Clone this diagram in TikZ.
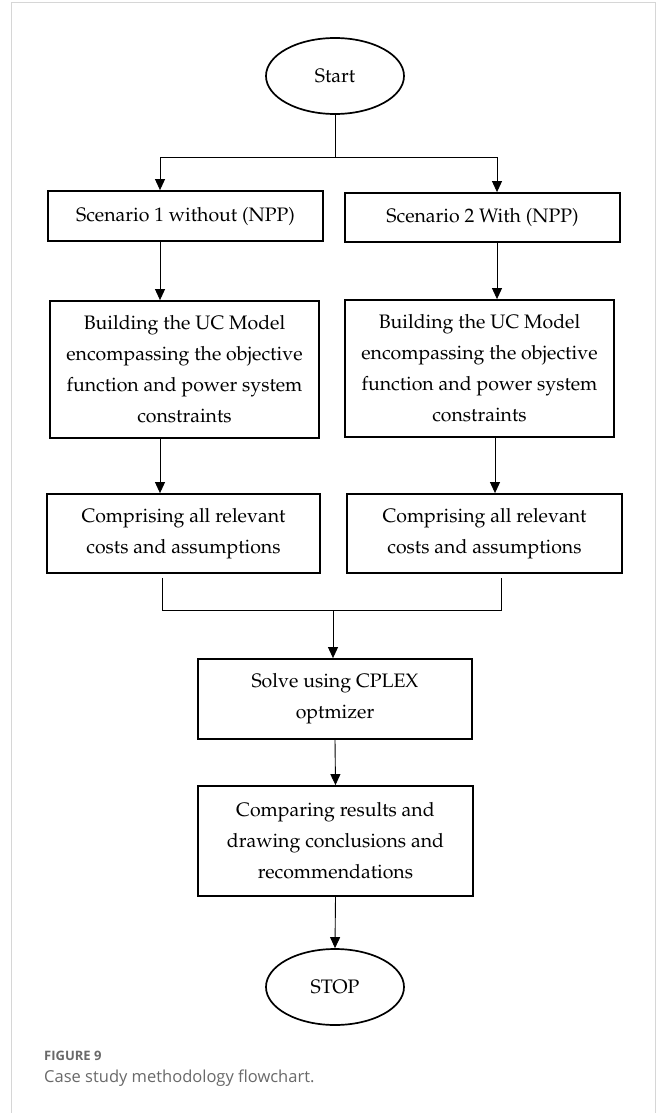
\documentclass[tikz,border=0pt]{standalone}
\usepackage[T1]{fontenc}
\usepackage{fontspec}
\newfontfamily\capfont{Open Sans}
\usepackage{tikz}
\usetikzlibrary{arrows.meta, positioning, shapes.geometric, calc}
\usepackage{xcolor}
\definecolor{framegray}{RGB}{214, 214, 214}
\definecolor{captiongray}{RGB}{105, 105, 105}
\newcommand{\palfont}{\fontencoding{T1}\fontfamily{ppl}\selectfont\fontsize{19.5}{31}\selectfont}

\begin{document}
\begin{tikzpicture}[x=1pt, y=-1pt,
    stepbox/.style={draw, line width=1.8pt, align=center, inner sep=0pt, font=\palfont},
    terminal/.style={draw, ellipse, line width=1.7pt, minimum width=138pt, minimum height=76pt, inner sep=0pt, font=\palfont},
    link/.style={draw, line width=0.9pt},
    flow/.style={link, -{Triangle[length=11pt, width=10pt]}}]
    \useasboundingbox (0,0) rectangle (658,1113);
    % Figure frame
    \draw[framegray, line width=1pt] (11,1113) -- (11,3) -- (655,3) -- (655,1113);

    % Start and the two scenarios
    \node[terminal] (start) at (335,76) {Start};
    \node[stepbox, minimum width=275pt, minimum height=50pt] (scen1) at (185.5,216) {Scenario 1 without (NPP)};
    \node[stepbox, minimum width=275pt, minimum height=49pt] (scen2) at (482.5,217.5) {Scenario 2 With (NPP)};

    % UC models
    \node[stepbox, minimum width=269pt, minimum height=137pt] (model1) at (184.5,369.5)
      {Building the UC Model\\encompassing the objective\\function and power system\\constraints};
    \node[stepbox, minimum width=269pt, minimum height=137pt] (model2) at (479.5,368.5)
      {Building the UC Model\\encompassing the objective\\function and power system\\constraints};

    % Costs
    \node[stepbox, minimum width=273pt, minimum height=79pt] (costs1) at (183.5,533.5)
      {Comprising all relevant\\costs and assumptions};
    \node[stepbox, minimum width=275pt, minimum height=79pt] (costs2) at (484.5,533.5)
      {Comprising all relevant\\costs and assumptions};

    % Solver, results, stop
    \node[stepbox, minimum width=274pt, minimum height=80pt] (solve) at (335,699)
      {Solve using CPLEX\\optmizer};
    \node[stepbox, minimum width=275pt, minimum height=110pt] (compare) at (335.5,841)
      {Comparing results and\\drawing conclusions and\\recommendations};
    \node[terminal] (stop) at (335,987) {STOP};

    % Split and merge points
    \coordinate (split) at (335,157);
    \coordinate (colL) at (160,157);
    \coordinate (colR) at (497,157);
    \coordinate (mergeL) at (162,610);
    \coordinate (mergeR) at (501,610);
    \coordinate (merge) at (333,610);

    \draw[link] (start.south) -- (split);
    \draw[link] (colL) -- (colR);
    \draw[flow] (colL) -- (scen1.north -| colL);
    \draw[flow] (colR) -- (scen2.north -| colR);
    \draw[flow] (scen1.south -| colL) -- (model1.north -| colL);
    \draw[flow] (scen2.south -| colR) -- (model2.north -| colR);
    \draw[flow] (model1.south -| colL) -- (costs1.north -| colL);
    \draw[flow] ($(model2.south -| colR)+(-2,0)$) -- ($(costs2.north -| colR)+(-2,0)$);
    \draw[link, shorten <=4pt, shorten >=4pt] (costs1.south -| mergeL) -- (mergeL) -- (mergeR) -- (costs2.south -| mergeR);
    \draw[flow] (merge) -- (solve.north -| merge);
    \draw[flow] (solve.south) -- (compare.north);
    \draw[flow] (compare.south) -- (stop.north);

    % Caption
    \node[anchor=base west, inner sep=0pt, text=captiongray, font=\capfont\bfseries\fontsize{13}{15}\selectfont] (figlabel) at (44,1060) {FIGURE 9};
    \node[anchor=base west, inner sep=0pt, text=captiongray, font=\capfont\fontsize{16.5}{19}\selectfont] (figcaption) at (44,1082) {Case study methodology flowchart.};
  \end{tikzpicture}
\end{document}
